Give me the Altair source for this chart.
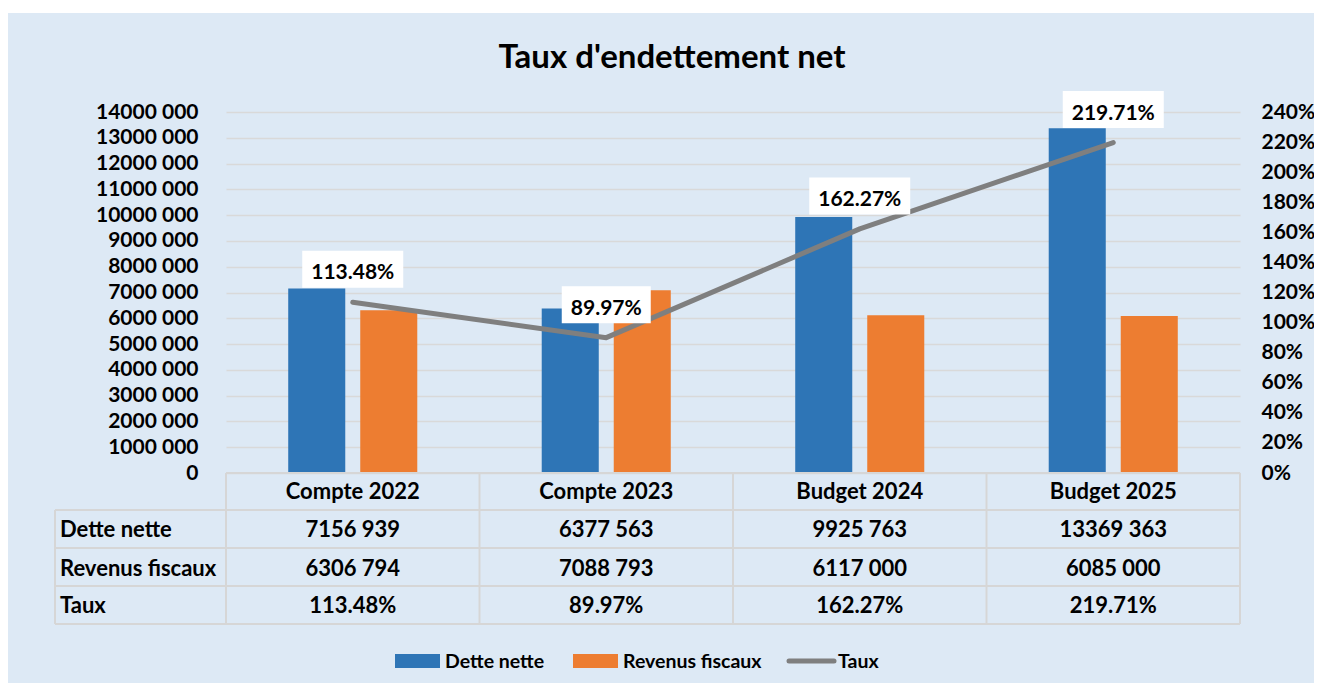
import altair as alt
import pandas as pd

# ---------------- data ----------------
categories = ["Compte 2022", "Compte 2023", "Budget 2024", "Budget 2025"]
dette_nette = [7156939, 6377563, 9925763, 13369363]
revenus_fiscaux = [6306794, 7088793, 6117000, 6085000]
taux = [1.1348, 0.8997, 1.6227, 2.1971]
series = ["Dette nette", "Revenus fiscaux"]
row_labels = ["Dette nette", "Revenus fiscaux", "Taux"]
title_text = "Taux d'endettement net"
left_ticks = [i * 1000000 for i in range(0, 15)]
right_ticks = [round(i * 0.2, 1) for i in range(0, 13)]

BLUE = "#2e75b6"
ORANGE = "#ed7d31"
GREY = "#7f7f7f"
BG = "#dde9f5"
BORDER = "#d6d6d6"
FONT = "Lato"
FS_AXIS = 21
FS_TABLE = 22
FS_LEG = 19.5


def fmt_num(v):
    return f"{v // 1000} {v % 1000:03d}"


bars_df = pd.DataFrame(
    {
        "cat": categories * 2,
        "serie": [series[0]] * 4 + [series[1]] * 4,
        "value": dette_nette + revenus_fiscaux,
    }
)
taux_df = pd.DataFrame(
    {"cat": categories, "taux": taux, "label": [f"{t * 100:.2f}%" for t in taux]}
)
table_df = pd.DataFrame(
    {
        "cat": categories,
        "dette": [fmt_num(v) for v in dette_nette],
        "rev": [fmt_num(v) for v in revenus_fiscaux],
        "taux": [f"{t * 100:.2f}%" for t in taux],
    }
)
one = pd.DataFrame({"k": [0]})

W, H = 1014, 361
xs = alt.Scale(domain=categories, paddingInner=0, paddingOuter=0)

# white strip at the top (outside the chart panel)
strip = alt.Chart(one).mark_rect(color="white").encode(
    x=alt.value(-230), x2=alt.value(W + 100), y=alt.value(-110), y2=alt.value(-99)
)

# ---------------- bars (left axis) ----------------
bars = alt.Chart(bars_df).mark_bar().encode(
    x=alt.X("cat:N", scale=xs, axis=None, sort=categories),
    xOffset=alt.XOffset(
        "serie:N",
        scale=alt.Scale(domain=series, paddingInner=0.208, paddingOuter=0.864),
    ),
    y=alt.Y(
        "value:Q",
        scale=alt.Scale(domain=[0, 14000000], nice=False),
        axis=alt.Axis(
            orient="left",
            values=left_ticks,
            labelExpr="datum.value == 0 ? '0' : floor(datum.value/1000) + ' 000'",
            title=None,
            domain=False,
            ticks=False,
            labelPadding=28,
            grid=True,
            gridColor="#d9d9d9",
            gridWidth=1.5,
            labelFont=FONT,
            labelFontSize=FS_AXIS,
            labelFontWeight="bold",
            labelColor="black",
        ),
    ),
    color=alt.Color(
        "serie:N", scale=alt.Scale(domain=series, range=[BLUE, ORANGE]), legend=None
    ),
)

# ---------------- taux line (right axis) ----------------
right_axis = alt.Axis(
    orient="right",
    values=right_ticks,
    format=".0%",
    title=None,
    domain=False,
    ticks=False,
    grid=False,
    labelPadding=21,
    labelFont=FONT,
    labelFontSize=FS_AXIS,
    labelFontWeight="bold",
    labelColor="black",
)
ys_r = alt.Scale(domain=[0, 2.4], nice=False)

line = alt.Chart(taux_df).mark_line(
    color=GREY, strokeWidth=5, strokeCap="round", strokeJoin="round"
).encode(
    x=alt.X("cat:N", scale=xs, axis=None, sort=categories),
    y=alt.Y("taux:Q", scale=ys_r, axis=right_axis),
)

boxes = (
    alt.Chart(taux_df)
    .transform_calculate(
        hw="(12 * length(datum.label) + 17) / 100",
    )
    .transform_calculate(
        shp="'M' + (-datum.hw) + ',-0.37L' + datum.hw + ',-0.37L' + datum.hw + ',0.37L' + (-datum.hw) + ',0.37Z'"
    )
    .mark_point(filled=True, color="white", opacity=1, size=10000, yOffset=-33, strokeWidth=0)
    .encode(
        x=alt.X("cat:N", scale=xs, axis=None, sort=categories),
        y=alt.Y("taux:Q", scale=ys_r, axis=right_axis),
        shape=alt.Shape("shp:N", scale=None),
    )
)

labels = alt.Chart(taux_df).mark_text(
    font=FONT, fontSize=21, fontWeight="bold", color="black",
    baseline="alphabetic", yOffset=-23
).encode(
    x=alt.X("cat:N", scale=xs, axis=None, sort=categories),
    y=alt.Y("taux:Q", scale=ys_r, axis=right_axis),
    text="label:N",
)

taux_layer = alt.layer(line, boxes, labels)

# ---------------- data table ----------------
def hrule(y, x0, x1):
    return alt.Chart(one).mark_rule(color=BORDER, strokeWidth=2).encode(
        x=alt.value(x0), x2=alt.value(x1), y=alt.value(y)
    )


def vrule(x, y0, y1):
    return alt.Chart(one).mark_rule(color=BORDER, strokeWidth=2).encode(
        x=alt.value(x), y=alt.value(y0), y2=alt.value(y1)
    )


table_lines = [
    hrule(H, 0, W),
    hrule(398, -171, W),
    hrule(436, -171, W),
    hrule(474, -171, W),
    hrule(512, -171, W),
    vrule(-171, 398, 512),
    vrule(W, H, 512),
]
col_lines = alt.Chart(table_df).mark_rule(color=BORDER, strokeWidth=2).encode(
    x=alt.X("cat:N", scale=xs, axis=None, sort=categories, bandPosition=0),
    y=alt.value(H),
    y2=alt.value(512),
)


def col_text(field, y):
    return alt.Chart(table_df).mark_text(
        font=FONT, fontSize=FS_TABLE, fontWeight="bold", color="black", baseline="alphabetic"
    ).encode(
        x=alt.X("cat:N", scale=xs, axis=None, sort=categories),
        y=alt.value(y),
        text=f"{field}:N",
    )


header = col_text("cat", 387)
row1 = col_text("dette", 425)
row2 = col_text("rev", 463.5)
row3 = col_text("taux", 501)

row_lab_layers = []
for i, yy in enumerate([425, 463.5, 501]):
    row_lab_layers.append(
        alt.Chart(pd.DataFrame({"lab": [row_labels[i]]})).mark_text(
            font=FONT, fontSize=FS_TABLE, fontWeight="bold", color="black",
            baseline="alphabetic", align="left"
        ).encode(x=alt.value(-166), y=alt.value(yy), text="lab:N")
    )

# ---------------- title ----------------
title = alt.Chart(pd.DataFrame({"t": [title_text]})).mark_text(
    font=FONT, fontSize=33, fontWeight="bold", color="black", baseline="alphabetic"
).encode(x=alt.value(446), y=alt.value(-44), text="t:N")

# ---------------- legend ----------------
leg = []
leg.append(alt.Chart(one).mark_rect(color=BLUE).encode(
    x=alt.value(169), x2=alt.value(214), y=alt.value(542), y2=alt.value(556)))
leg.append(alt.Chart(pd.DataFrame({"t": [series[0]]})).mark_text(
    font=FONT, fontSize=FS_LEG, fontWeight="bold", color="black", align="left", baseline="alphabetic"
).encode(x=alt.value(219), y=alt.value(556), text="t:N"))
leg.append(alt.Chart(one).mark_rect(color=ORANGE).encode(
    x=alt.value(347), x2=alt.value(392), y=alt.value(542), y2=alt.value(556)))
leg.append(alt.Chart(pd.DataFrame({"t": [series[1]]})).mark_text(
    font=FONT, fontSize=FS_LEG, fontWeight="bold", color="black", align="left", baseline="alphabetic"
).encode(x=alt.value(397), y=alt.value(556), text="t:N"))
leg.append(alt.Chart(one).mark_rule(color=GREY, strokeWidth=5, strokeCap="round").encode(
    x=alt.value(563), x2=alt.value(608), y=alt.value(549)))
leg.append(alt.Chart(pd.DataFrame({"t": ["Taux"]})).mark_text(
    font=FONT, fontSize=FS_LEG, fontWeight="bold", color="black", align="left", baseline="alphabetic"
).encode(x=alt.value(612), y=alt.value(556), text="t:N"))

chart = (
    alt.layer(
        strip, bars, taux_layer,
        *table_lines, col_lines, header, row1, row2, row3, *row_lab_layers,
        title, *leg,
    )
    .resolve_scale(y="independent")
    .properties(
        width=W,
        height=H,
        autosize=alt.AutoSizeParams(type="none"),
        padding={"left": 218, "top": 104, "right": 74, "bottom": 210},
        background=BG,
    )
    .configure_view(stroke=None)
)

chart.save("out.html", embed_options={"renderer": "svg", "actions": False})
